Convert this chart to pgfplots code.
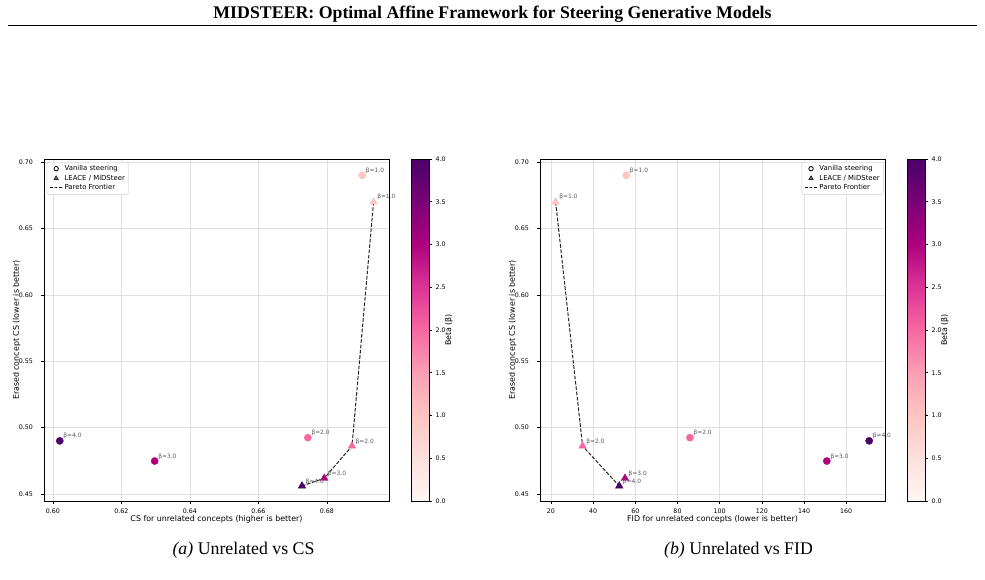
\documentclass[border=0pt]{standalone}
\usepackage{pgfplots}
\usepackage{pgfplotstable}
\pgfplotsset{compat=1.18}
\usepackage{fontspec}
\setmainfont{DejaVu Sans}
\newfontfamily\timesf{Liberation Serif}

\pgfplotstableread{
x y b
0.6020 0.4900 4
0.6297 0.4748 3
0.6744 0.4924 2
0.6903 0.6900 1
}\leftvan
\pgfplotstableread{
x y b
0.6936 0.6700 1
0.6873 0.4861 2
0.6792 0.4618 3
0.6727 0.4560 4
}\leftlea
\pgfplotstableread{
x y
0.6727 0.4560
0.6792 0.4618
0.6873 0.4861
0.6936 0.6700
}\leftpar
\pgfplotstableread{
x y b
55.7 0.6900 1
85.9 0.4924 2
150.8 0.4748 3
170.9 0.4900 4
}\rightvan
\pgfplotstableread{
x y b
22.2 0.6700 1
35.0 0.4861 2
55.1 0.4618 3
52.4 0.4560 4
}\rightlea
\pgfplotstableread{
x y
22.2 0.6700
35.0 0.4861
52.4 0.4560
}\rightpar

\pgfplotsset{
  colormap={RdPu}{rgb255=(255,247,243) rgb255=(253,224,221) rgb255=(252,197,192) rgb255=(250,159,181) rgb255=(247,104,161) rgb255=(221,52,151) rgb255=(174,1,126) rgb255=(122,1,119) rgb255=(73,0,106)},
  mybase/.style={
    scale only axis, width=345pt, height=342pt,
    axis line style={line width=0.8pt},
    tick align=outside, major tick length=2.8pt,
    tick style={black, line width=0.6pt},
    xtick pos=bottom, ytick pos=left,
    grid=major, grid style={black!12, line width=0.6pt},
    ymin=0.4447, ymax=0.7023,
    ytick={0.45,0.50,0.55,0.60,0.65,0.70},
    /pgf/number format/assume math mode=true,
    ticklabel style={font=\fontsize{6.3}{7}\selectfont},
    yticklabel style={anchor=east, inner sep=0pt, xshift=-8pt, /pgf/number format/.cd, fixed, fixed zerofill, precision=2},
    xticklabel style={anchor=north, inner sep=0pt, yshift=-5pt},
    label style={font=\fontsize{7.9}{9}\selectfont},
    xlabel style={at={(axis description cs:0.5,-0.0526)}, anchor=center},
    ylabel style={at={(axis description cs:-0.0795,0.5)}, anchor=center},
    ylabel={Erased concept CS (lower is better)},
    legend cell align=left,
    legend image code/.code={\draw[mark repeat=2,mark phase=2,##1] plot coordinates {(0pt,0pt) (6.5pt,0pt) (13pt,0pt)};},
    legend style={font=\fontsize{6.9}{7.6}\selectfont, draw=black!20, rounded corners=1.5pt, inner xsep=2.2pt, inner ysep=1.6pt, nodes={inner sep=1.45pt}},
    colorbar, colormap name=RdPu, point meta min=0, point meta max=4,
    colorbar/width=18pt,
    colorbar shift/.style={xshift=22pt},
    colorbar style={at={(parent axis.north east)}, anchor=north west,
      scale only axis, height=342pt,
      ytick={0,0.5,1,1.5,2,2.5,3,3.5,4},
      ytick pos=right, yticklabel pos=right,
      tick align=outside, major tick length=2.8pt, tick style={black, line width=0.6pt},
      axis line style={line width=0.8pt},
      yticklabel style={font=\fontsize{6.3}{7}\selectfont, anchor=west, inner sep=0pt, xshift=3.5pt, /pgf/number format/.cd, fixed, fixed zerofill, precision=1, assume math mode=true},
      ylabel={Beta (β)},
      ylabel style={font=\fontsize{7.9}{9}\selectfont, at={(axis description cs:2.1,0.5)}, anchor=center}},
  },
  vanpts/.style={scatter, only marks, mark=*, mark size=3.6pt, scatter src=explicit,
    scatter/use mapped color={draw=mapped color, fill=mapped color}, forget plot},
  leapts/.style={vanpts, mark=triangle*, mark size=4.4pt},
  betalabels/.style={draw=none, mark=none, forget plot, point meta=explicit,
    nodes near coords={β=\pgfmathprintnumber[fixed,fixed zerofill,precision=1]{\pgfplotspointmeta}},
    nodes near coords style={anchor=base west, inner sep=0pt, xshift=3.5pt, yshift=3pt, font=\fontsize{5.9}{6}\selectfont, text=black!65}},
  pareto/.style={black!85, dash pattern=on 3.7pt off 1.6pt, line width=1pt, forget plot},
}

\begin{document}
\begin{tikzpicture}
\useasboundingbox (0,0) rectangle (985pt,579pt);

\node[anchor=base, font=\timesf\bfseries\fontsize{17.8}{20}\selectfont] at (492.5pt,560pt) {MIDSTEER: Optimal Affine Framework for Steering Generative Models};
\draw[line width=1.6pt] (8pt,553.5pt) -- (977pt,553.5pt);

\begin{axis}[mybase, at={(44pt,78pt)}, anchor=south west,
  xmin=0.5974, xmax=0.6981,
  xtick={0.60,0.62,0.64,0.66,0.68},
  xticklabel style={/pgf/number format/.cd, fixed, fixed zerofill, precision=2},
  xlabel={CS for unrelated concepts (higher is better)},
  legend style={at={(0.008,0.991)}, anchor=north west}]
\addplot[pareto] table[x=x,y=y] {\leftpar};
\addplot[vanpts] table[x=x,y=y,meta=b] {\leftvan};
\addplot[leapts] table[x=x,y=y,meta=b] {\leftlea};
\addplot[betalabels] table[x=x,y=y,meta=b] {\leftvan};
\addplot[betalabels] table[x=x,y=y,meta=b] {\leftlea};
\addlegendimage{only marks, mark=o, mark size=2.2pt, black, line width=0.8pt}
\addlegendimage{only marks, mark=triangle*, mark size=2.6pt, black, mark options={fill=black!60}}
\addlegendimage{black, dash pattern=on 3pt off 1.5pt, line width=1pt}
\legend{Vanilla steering, LEACE / MiDSteer, Pareto Frontier}
\end{axis}

\begin{axis}[mybase, at={(540pt,78pt)}, anchor=south west,
  xmin=14.8, xmax=178.4,
  xtick={20,40,60,80,100,120,140,160},
  xlabel={FID for unrelated concepts (lower is better)},
  legend style={at={(0.996,0.991)}, anchor=north east}]
\addplot[pareto] table[x=x,y=y] {\rightpar};
\addplot[vanpts] table[x=x,y=y,meta=b] {\rightvan};
\addplot[leapts] table[x=x,y=y,meta=b] {\rightlea};
\addplot[betalabels] table[x=x,y=y,meta=b] {\rightvan};
\addplot[betalabels] table[x=x,y=y,meta=b] {\rightlea};
\addlegendimage{only marks, mark=o, mark size=2.2pt, black, line width=0.8pt}
\addlegendimage{only marks, mark=triangle*, mark size=2.6pt, black, mark options={fill=black!60}}
\addlegendimage{black, dash pattern=on 3pt off 1.5pt, line width=1pt}
\legend{Vanilla steering, LEACE / MiDSteer, Pareto Frontier}
\end{axis}

\node[anchor=base, font=\timesf\fontsize{17.8}{20}\selectfont] at (243.5pt,25pt) {\textit{(a)} Unrelated vs CS};
\node[anchor=base, font=\timesf\fontsize{17.8}{20}\selectfont] at (738.5pt,25pt) {\textit{(b)} Unrelated vs FID};
\end{tikzpicture}
\end{document}
